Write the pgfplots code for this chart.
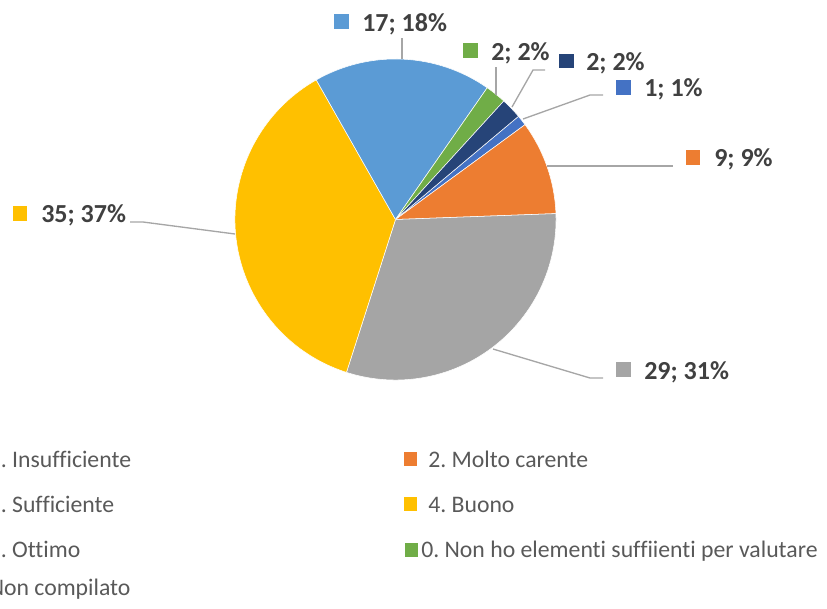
\documentclass[border=0pt]{standalone}
\usepackage{pgfplots}
\pgfplotsset{compat=1.18}
\usepackage{pgfplotstable}
\usepackage{fontspec}
\setmainfont{Carlito}[Ligatures=NoCommon]
\frenchspacing
\definecolor{cInsuff}{HTML}{4472C4}
\definecolor{cMolto}{HTML}{ED7D31}
\definecolor{cSuff}{HTML}{A5A5A5}
\definecolor{cBuono}{HTML}{FFC000}
\definecolor{cOttimo}{HTML}{5B9BD5}
\definecolor{cNonho}{HTML}{70AD47}
\definecolor{cNoncomp}{HTML}{264478}
\definecolor{cLeader}{HTML}{A6A6A6}
\definecolor{cLabel}{HTML}{404040}
\definecolor{cLegend}{HTML}{595959}
\tikzset{
  lbl/.style={anchor=base west,inner sep=0pt,text=cLabel,font=\fontsize{19.5}{23}\selectfont\bfseries},
  leg/.style={anchor=base west,inner sep=0pt,text=cLegend,font=\fontsize{17.8}{21}\selectfont},
  ldr/.style={draw=cLeader,line width=1pt}}

\pgfplotstableread{
value colour
1 cInsuff
9 cMolto
29 cSuff
35 cBuono
17 cOttimo
2 cNonho
2 cNoncomp
}\piedata

\begin{document}
\begin{tikzpicture}
\useasboundingbox (0,0) rectangle (620.25pt,456pt);
\begin{axis}[x=0.75pt,y=0.75pt,xmin=0,xmax=827,ymin=0,ymax=608,y dir=reverse,
  hide axis,clip=false,anchor=south west,at={(0,0)}]
\pgfplotsextra{%
  \pgfplotstablegetrowsof{\piedata}%
  \pgfmathtruncatemacro\lastrow{\pgfplotsretval-1}%
  \gdef\pietotal{0}%
  \foreach \i in {0,...,\lastrow}{%
    \pgfplotstablegetelem{\i}{value}\of\piedata
    \pgfmathsetmacro\tmp{\pietotal+\pgfplotsretval}\xdef\pietotal{\tmp}}%
  \gdef\piecum{0}%
  \foreach \i in {0,...,\lastrow}{%
    \pgfplotstablegetelem{\i}{value}\of\piedata \let\v\pgfplotsretval
    \pgfplotstablegetelem{\i}{colour}\of\piedata \let\c\pgfplotsretval
    \pgfmathsetmacro\a{40-\piecum/\pietotal*360}%
    \pgfmathsetmacro\b{40-(\piecum+\v)/\pietotal*360}%
    \fill[fill=\c, draw=white, line width=0.4pt] (axis cs:395.5,219.5) -- ([shift={(\a:120.4pt)}]axis cs:395.5,219.5) arc[start angle=\a, end angle=\b, radius=120.4pt] -- cycle;
    \pgfmathsetmacro\tmp{\piecum+\v}\xdef\piecum{\tmp}}%
}
% leader lines
\draw[ldr] (axis cs:402,38) -- (axis cs:402,59);
\draw[ldr] (axis cs:496,67) -- (axis cs:496,95);
\draw[ldr] (axis cs:545,70) -- (axis cs:533,70) -- (axis cs:512,107);
\draw[ldr] (axis cs:603,95) -- (axis cs:590,95) -- (axis cs:523,119);
\draw[ldr] (axis cs:547,166) -- (axis cs:673,166);
\draw[ldr] (axis cs:493,349) -- (axis cs:590,378) -- (axis cs:603,378);
\draw[ldr] (axis cs:130,222) -- (axis cs:143,222) -- (axis cs:235,234);
% data labels
\fill[cOttimo] (axis cs:334,14) rectangle (axis cs:349,29);
\node[lbl] at (axis cs:362,31.5) {17; 18\%};
\fill[cNonho] (axis cs:463,43) rectangle (axis cs:478,58);
\node[lbl] at (axis cs:491,60) {2; 2\%};
\fill[cNoncomp] (axis cs:559,54) rectangle (axis cs:574,68);
\node[lbl] at (axis cs:586,70) {2; 2\%};
\fill[cInsuff] (axis cs:616,80) rectangle (axis cs:631,95);
\node[lbl] at (axis cs:644,96) {1; 1\%};
\fill[cMolto] (axis cs:686,150) rectangle (axis cs:700,165);
\node[lbl] at (axis cs:714,166) {9; 9\%};
\fill[cSuff] (axis cs:616,362) rectangle (axis cs:631,377);
\node[lbl] at (axis cs:644,379) {29; 31\%};
\fill[cBuono] (axis cs:13,206) rectangle (axis cs:27,221);
\node[lbl] at (axis cs:41,222) {35; 37\%};
% legend
\fill[cInsuff] (axis cs:-37,452) rectangle (axis cs:-24,466);
\node[leg] at (axis cs:-11.5,467) {1. Insufficiente};
\fill[cMolto] (axis cs:404,452) rectangle (axis cs:417,466);
\node[leg] at (axis cs:428,467) {2. Molto carente};
\fill[cSuff] (axis cs:-37,497) rectangle (axis cs:-24,511);
\node[leg] at (axis cs:-11.5,512) {3. Sufficiente};
\fill[cBuono] (axis cs:404,497) rectangle (axis cs:417,511);
\node[leg] at (axis cs:428,512) {4. Buono};
\fill[cOttimo] (axis cs:-37,543) rectangle (axis cs:-24,557);
\node[leg] at (axis cs:-11.5,557) {5. Ottimo};
\fill[cNonho] (axis cs:405,543) rectangle (axis cs:418,557);
\node[leg] at (axis cs:421,557) {0. Non ho elementi suffiienti per valutare};
\fill[cNoncomp] (axis cs:-37,581) rectangle (axis cs:-24,595);
\node[leg] at (axis cs:-11.5,595) {Non compilato};
\end{axis}
\end{tikzpicture}
\end{document}
